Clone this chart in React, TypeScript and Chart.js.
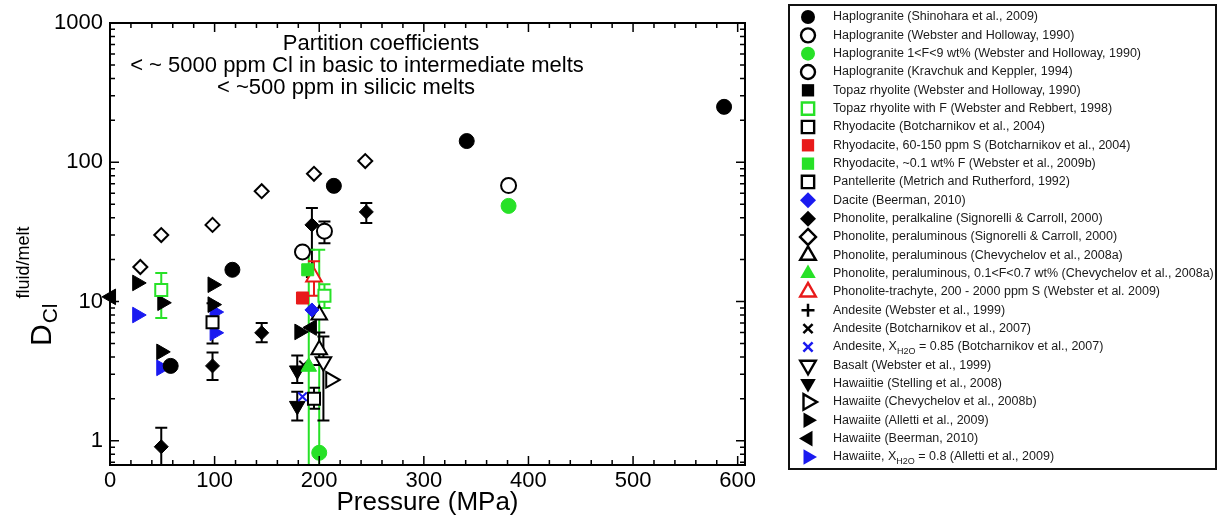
import React, { useEffect, useRef } from 'react';
import { Chart, registerables } from 'chart.js';

Chart.register(...registerables);

// [pressure (MPa), D, errLow?, errHigh?]
type Pt = [number, number, number?, number?];

const X_TICK_LABELS = [0, 100, 200, 300, 400, 500, 600];
const Y_TICK_LABELS = [1, 10, 100, 1000];
const X_MIN = 0;
const X_MAX = 607;
const Y_MIN = 0.67;
const Y_MAX = 1000;

const haploShinohara: Pt[] = [[58, 3.45], [117, 16.9], [214, 67.7], [341, 142], [587, 250]];
const haploWebster: Pt[] = [[381, 68], [205, 32, 26.2, 37.5]];
const haploWebsterF: Pt[] = [[381, 48.6], [200, 0.82, 0.3, 23.5]];
const haploKravchuk: Pt[] = [[184, 22.7]];
const topazWebster: Pt[] = [];
const topazRebbert: Pt[] = [[49, 12.1, 7.6, 16], [205, 11, 9, 13.3]];
const rhyoBotch: Pt[] = [[195, 2.0, 1.7, 2.4]];
const rhyoBotchS: Pt[] = [[184, 10.6]];
const rhyoWebsterF: Pt[] = [[189, 16.9]];
const pantMetrich: Pt[] = [[98, 7.1, 5.0, 9.7]];
const daciteBeerman: Pt[] = [[193, 8.7]];
const phonPeralk: Pt[] = [[49, 0.906, 0.3, 1.24], [98, 3.45, 2.73, 4.3], [145, 5.96, 5.1, 7.0], [193, 35.5, 15, 47], [245, 44, 36.6, 51]];
const phonPeralumS: Pt[] = [[29, 17.7], [49, 30], [98, 35.5], [145, 62], [195, 82.6], [244, 102]];
const phonPeralumC: Pt[] = [[200, 8.0], [200, 4.5, 3.5, 6.0]];
const phonPeralumF: Pt[] = [[190, 3.4, 0.3, 23.5]];
const phonTrachyte: Pt[] = [[195, 15, 11, 19.5]];
const andWebster: Pt[] = [];
const andBotch: Pt[] = [[185, 3.5]];
const andBotchX: Pt[] = [[184, 2.07]];
const basaltWebster: Pt[] = [[204, 3.7, 1.4, 5.6]];
const hawStelling: Pt[] = [[179, 3.2, 2.6, 4.1], [179, 1.78, 1.4, 2.25]];
const hawChevy: Pt[] = [[211, 2.74]];
const hawAlletti: Pt[] = [[26, 13.6], [50, 9.8], [49, 4.35], [98, 13.2], [98, 9.5], [181, 6.05]];
const hawBeerman: Pt[] = [[1, 10.8], [193, 6.5]];
const hawAllettiX: Pt[] = [[26, 8.0], [49, 3.34], [100, 8.4], [100, 5.96]];

const BLACK = '#000000';
const GREEN = '#27e127';
const RED = '#e81a1a';
const BLUE = '#1a1af0';
const FONT = '"Liberation Sans", Arial, Helvetica, sans-serif';

type Shape = 'circle' | 'rect' | 'rectRot' | 'triangle' | 'cross' | 'crossRot';
interface Series { label: string; data: Pt[]; shape: Shape; rot: number; color: string; open: boolean; }

const SERIES: Series[] = [
  { label: 'Haplogranite (Shinohara et al., 2009)', data: haploShinohara, shape: 'circle', rot: 0, color: BLACK, open: false },
  { label: 'Haplogranite (Webster and Holloway, 1990)', data: haploWebster, shape: 'circle', rot: 0, color: BLACK, open: true },
  { label: 'Haplogranite 1<F<9 wt% (Webster and Holloway, 1990)', data: haploWebsterF, shape: 'circle', rot: 0, color: GREEN, open: false },
  { label: 'Haplogranite (Kravchuk and Keppler, 1994)', data: haploKravchuk, shape: 'circle', rot: 0, color: BLACK, open: true },
  { label: 'Topaz rhyolite (Webster and Holloway, 1990)', data: topazWebster, shape: 'rect', rot: 0, color: BLACK, open: false },
  { label: 'Topaz rhyolite with F (Webster and Rebbert, 1998)', data: topazRebbert, shape: 'rect', rot: 0, color: GREEN, open: true },
  { label: 'Rhyodacite (Botcharnikov et al., 2004)', data: rhyoBotch, shape: 'rect', rot: 0, color: BLACK, open: true },
  { label: 'Rhyodacite, 60-150 ppm S (Botcharnikov et al., 2004)', data: rhyoBotchS, shape: 'rect', rot: 0, color: RED, open: false },
  { label: 'Rhyodacite, ~0.1 wt% F (Webster et al., 2009b)', data: rhyoWebsterF, shape: 'rect', rot: 0, color: GREEN, open: false },
  { label: 'Pantellerite (Metrich and Rutherford, 1992)', data: pantMetrich, shape: 'rect', rot: 0, color: BLACK, open: true },
  { label: 'Dacite (Beerman, 2010)', data: daciteBeerman, shape: 'rectRot', rot: 0, color: BLUE, open: false },
  { label: 'Phonolite, peralkaline (Signorelli & Carroll, 2000)', data: phonPeralk, shape: 'rectRot', rot: 0, color: BLACK, open: false },
  { label: 'Phonolite, peraluminous (Signorelli & Carroll, 2000)', data: phonPeralumS, shape: 'rectRot', rot: 0, color: BLACK, open: true },
  { label: 'Phonolite, peraluminous (Chevychelov et al., 2008a)', data: phonPeralumC, shape: 'triangle', rot: 0, color: BLACK, open: true },
  { label: 'Phonolite, peraluminous, 0.1<F<0.7 wt% (Chevychelov et al., 2008a)', data: phonPeralumF, shape: 'triangle', rot: 0, color: GREEN, open: false },
  { label: 'Phonolite-trachyte, 200 - 2000 ppm S (Webster et al. 2009)', data: phonTrachyte, shape: 'triangle', rot: 0, color: RED, open: true },
  { label: 'Andesite (Webster et al., 1999)', data: andWebster, shape: 'cross', rot: 0, color: BLACK, open: false },
  { label: 'Andesite (Botcharnikov et al., 2007)', data: andBotch, shape: 'crossRot', rot: 0, color: BLACK, open: false },
  { label: 'Andesite, X_{H2O} = 0.85 (Botcharnikov et al., 2007)', data: andBotchX, shape: 'crossRot', rot: 0, color: BLUE, open: false },
  { label: 'Basalt (Webster et al., 1999)', data: basaltWebster, shape: 'triangle', rot: 180, color: BLACK, open: true },
  { label: 'Hawaiitie (Stelling et al., 2008)', data: hawStelling, shape: 'triangle', rot: 180, color: BLACK, open: false },
  { label: 'Hawaiite (Chevychelov et al., 2008b)', data: hawChevy, shape: 'triangle', rot: 90, color: BLACK, open: true },
  { label: 'Hawaiite (Alletti et al., 2009)', data: hawAlletti, shape: 'triangle', rot: 90, color: BLACK, open: false },
  { label: 'Hawaiite (Beerman, 2010)', data: hawBeerman, shape: 'triangle', rot: 270, color: BLACK, open: false },
  { label: 'Hawaiite, X_{H2O} = 0.8 (Alletti et al., 2009)', data: hawAllettiX, shape: 'triangle', rot: 90, color: BLUE, open: false },
];

const PLOT_R: Record<Shape, number> = { circle: 7.5, rect: 8.5, rectRot: 7, triangle: 9, cross: 6, crossRot: 6 };
const LEG_R: Record<Shape, number> = { circle: 7, rect: 8.7, rectRot: 8, triangle: 9, cross: 6.5, crossRot: 6.5 };

function markerPath(ctx: CanvasRenderingContext2D, shape: Shape, x: number, y: number, r: number, rotDeg: number) {
  const rot = (rotDeg * Math.PI) / 180;
  ctx.beginPath();
  if (shape === 'circle') {
    ctx.arc(x, y, r, 0, Math.PI * 2);
    ctx.closePath();
  } else if (shape === 'rect') {
    const s = r * Math.SQRT1_2;
    ctx.rect(x - s, y - s, 2 * s, 2 * s);
  } else if (shape === 'rectRot') {
    ctx.moveTo(x, y - r); ctx.lineTo(x + r, y); ctx.lineTo(x, y + r); ctx.lineTo(x - r, y); ctx.closePath();
  } else if (shape === 'triangle') {
    for (let k = 0; k < 3; k++) {
      const a = rot + (k * 2 * Math.PI) / 3;
      const px = x + Math.sin(a) * r;
      const py = y - Math.cos(a) * r;
      if (k === 0) ctx.moveTo(px, py); else ctx.lineTo(px, py);
    }
    ctx.closePath();
  } else if (shape === 'cross') {
    ctx.moveTo(x, y - r); ctx.lineTo(x, y + r); ctx.moveTo(x - r, y); ctx.lineTo(x + r, y);
  } else {
    const s = r * Math.SQRT1_2;
    ctx.moveTo(x - s, y - s); ctx.lineTo(x + s, y + s); ctx.moveTo(x + s, y - s); ctx.lineTo(x - s, y + s);
  }
}

function drawRichText(ctx: CanvasRenderingContext2D, text: string, x: number, y: number, size: number) {
  const parts = text.split(/(_\{[^}]*\})/);
  let cx = x;
  for (const p of parts) {
    if (!p) continue;
    if (p.startsWith('_{')) {
      const t = p.slice(2, -1);
      ctx.font = `${size * 0.72}px ${FONT}`;
      ctx.fillText(t, cx, y + size * 0.35);
      cx += ctx.measureText(t).width;
    } else {
      ctx.font = `${size}px ${FONT}`;
      ctx.fillText(p, cx, y);
      cx += ctx.measureText(p).width;
    }
  }
}

const decorPlugin = {
  id: 'decor',
  beforeDatasetsDraw(chart: any) {
    const { ctx, chartArea: ca, scales } = chart;
    const xs = scales.x;
    const ys = scales.y;
    ctx.save();
    ctx.beginPath();
    ctx.rect(ca.left, ca.top, ca.right - ca.left, ca.bottom - ca.top);
    ctx.clip();
    ctx.lineWidth = 2;
    chart.data.datasets.forEach((ds: any) => {
      ctx.strokeStyle = ds.errColor;
      ds.data.forEach((d: any) => {
        if (d.lo == null || d.hi == null) return;
        const px = xs.getPixelForValue(d.x);
        const p1 = ys.getPixelForValue(d.lo);
        const p2 = ys.getPixelForValue(d.hi);
        ctx.beginPath();
        ctx.moveTo(px, p1); ctx.lineTo(px, p2);
        ctx.moveTo(px - 6, p1); ctx.lineTo(px + 6, p1);
        ctx.moveTo(px - 6, p2); ctx.lineTo(px + 6, p2);
        ctx.stroke();
      });
    });
    ctx.restore();
  },
  afterDraw(chart: any) {
    const { ctx, chartArea: ca, scales } = chart;
    const xs = scales.x;
    const ys = scales.y;
    ctx.save();
    ctx.strokeStyle = '#000';
    ctx.fillStyle = '#000';
    // frame
    ctx.lineWidth = 2;
    ctx.strokeRect(ca.left, ca.top, ca.right - ca.left, ca.bottom - ca.top);
    // ticks
    ctx.lineWidth = 1.5;
    ctx.beginPath();
    for (let v = X_MIN; v <= X_MAX; v += 20) {
      const px = xs.getPixelForValue(v);
      const len = v % 100 === 0 ? 9 : 5;
      ctx.moveTo(px, ca.bottom); ctx.lineTo(px, ca.bottom - len);
      ctx.moveTo(px, ca.top); ctx.lineTo(px, ca.top + len);
    }
    for (let e = -1; e <= 3; e++) {
      for (let m = 1; m <= 9; m++) {
        const v = m * Math.pow(10, e);
        if (v < Y_MIN || v > Y_MAX) continue;
        const py = ys.getPixelForValue(v);
        const len = m === 1 ? 9 : 5;
        ctx.moveTo(ca.left, py); ctx.lineTo(ca.left + len, py);
        ctx.moveTo(ca.right, py); ctx.lineTo(ca.right - len, py);
      }
    }
    ctx.stroke();

    // annotation
    ctx.textAlign = 'center';
    ctx.textBaseline = 'middle';
    ctx.font = `22px ${FONT}`;
    ctx.fillText('Partition coefficients', 381, 44);
    ctx.fillText('< ~ 5000 ppm Cl in basic to intermediate melts', 357, 66);
    ctx.fillText('< ~500 ppm in silicic melts', 346, 88);

    // x title
    ctx.font = `26px ${FONT}`;
    ctx.fillText('Pressure (MPa)', (ca.left + ca.right) / 2, 503);

    // y title
    ctx.save();
    ctx.translate(51, 346);
    ctx.rotate(-Math.PI / 2);
    ctx.textAlign = 'left';
    ctx.textBaseline = 'alphabetic';
    ctx.font = `30px ${FONT}`;
    ctx.fillText('D', 0, 0);
    const w1 = ctx.measureText('D').width;
    ctx.font = `21px ${FONT}`;
    ctx.fillText('Cl', w1 + 1, 6);
    const w2 = ctx.measureText('Cl').width;
    ctx.font = `18px ${FONT}`;
    ctx.fillText('fluid/melt', w1 + w2 + 6, -22);
    ctx.restore();

    // legend
    const lx0 = 788, ly0 = 4, lx1 = 1217, ly1 = 470;
    ctx.lineWidth = 2;
    ctx.strokeStyle = '#111';
    ctx.strokeRect(lx0 + 1, ly0 + 1, lx1 - lx0 - 2, ly1 - ly0 - 2);
    ctx.textAlign = 'left';
    ctx.textBaseline = 'middle';
    SERIES.forEach((s, i) => {
      const y = 17 + i * 18.33;
      const r = LEG_R[s.shape];
      markerPath(ctx, s.shape, 808, y, r, s.rot);
      if (s.shape === 'cross' || s.shape === 'crossRot') {
        ctx.lineWidth = 2.5; ctx.strokeStyle = s.color; ctx.stroke();
      } else if (s.open) {
        ctx.fillStyle = '#fff'; ctx.fill();
        ctx.lineWidth = 2.4; ctx.strokeStyle = s.color; ctx.stroke();
      } else {
        ctx.fillStyle = s.color; ctx.fill();
      }
      ctx.fillStyle = '#1a1a1a';
      drawRichText(ctx, s.label, 833, y, 12.5);
    });
    ctx.restore();
  },
};

export default function App() {
  const ref = useRef<HTMLCanvasElement>(null);
  useEffect(() => {
    const datasets = SERIES.map((s) => ({
      label: s.label,
      data: s.data.map((p) => ({ x: p[0], y: p[1], lo: p[2], hi: p[3] })),
      pointStyle: s.shape,
      pointRotation: s.rot,
      pointRadius: PLOT_R[s.shape],
      pointBackgroundColor: s.open ? '#ffffff' : s.color,
      pointBorderColor: s.color,
      pointBorderWidth: s.open || s.shape === 'cross' || s.shape === 'crossRot' ? 2 : 1,
      showLine: false,
      clip: false as any,
      errColor: s.color,
    }));
    const chart = new Chart(ref.current as HTMLCanvasElement, {
      type: 'scatter',
      data: { datasets: datasets as any },
      options: {
        animation: false,
        responsive: false,
        devicePixelRatio: 1,
        layout: { padding: { left: 0, top: 23, right: 473, bottom: 0 } },
        plugins: { legend: { display: false }, tooltip: { enabled: false } },
        scales: {
          x: {
            type: 'linear',
            min: X_MIN,
            max: X_MAX,
            grid: { display: false, drawTicks: false },
            border: { display: false },
            afterBuildTicks: (s: any) => { s.ticks = X_TICK_LABELS.map((v) => ({ value: v })); },
            ticks: {
              autoSkip: false,
              maxRotation: 0,
              minRotation: 0,
              padding: 3,
              color: '#000',
              font: { family: FONT, size: 22 },
              callback: (v: any) => String(v),
            },
            afterFit: (s: any) => { s.height = 59; },
          },
          y: {
            type: 'logarithmic',
            min: Y_MIN,
            max: Y_MAX,
            grid: { display: false, drawTicks: false },
            border: { display: false },
            afterBuildTicks: (s: any) => { s.ticks = Y_TICK_LABELS.map((v) => ({ value: v, major: true })); },
            ticks: {
              autoSkip: false,
              padding: 7,
              color: '#000',
              font: { family: FONT, size: 22 },
              callback: (v: any) => String(Number(v)),
            },
            afterFit: (s: any) => { s.width = 110; },
          },
        },
      },
      plugins: [decorPlugin as any],
    });
    return () => chart.destroy();
  }, []);
  return (
    <div style={{ position: 'absolute', left: 0, top: 0, width: 1218, height: 524, background: '#fff' }}>
      <canvas ref={ref} width={1218} height={524} style={{ display: 'block' }} />
    </div>
  );
}
